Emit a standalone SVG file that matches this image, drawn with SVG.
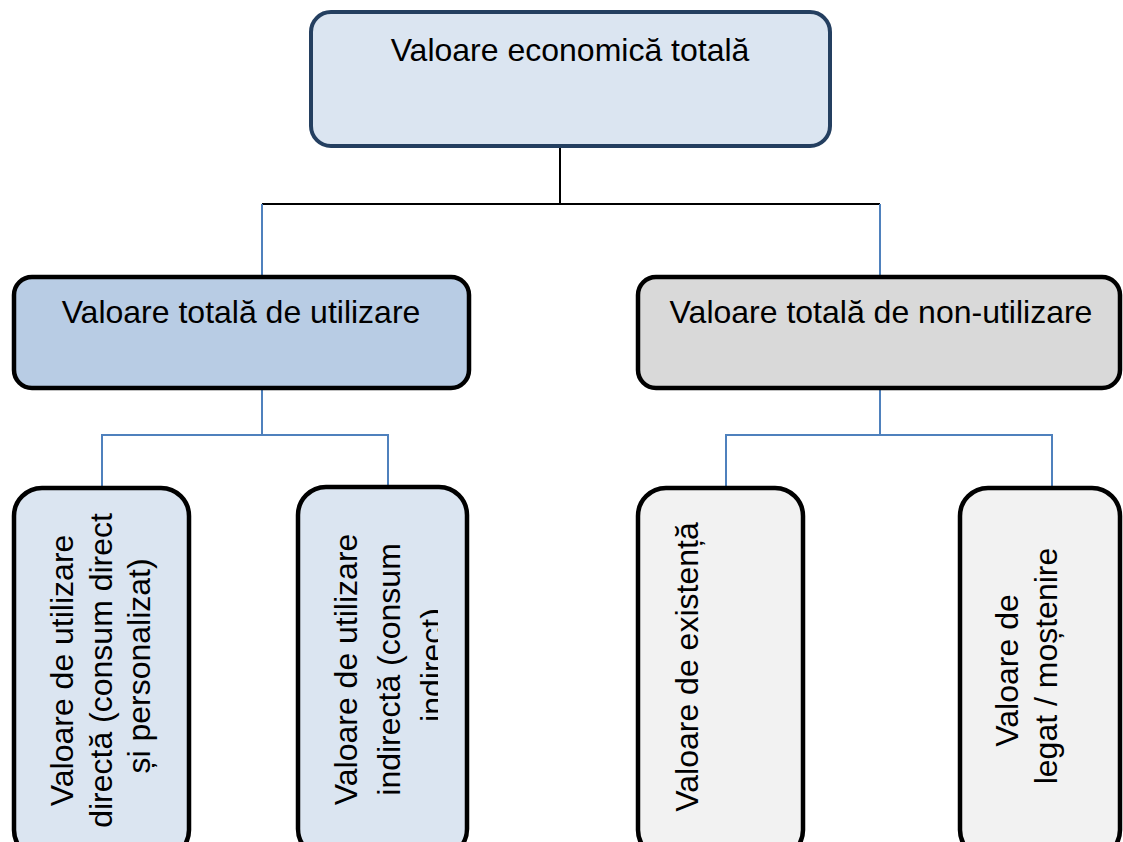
<svg xmlns="http://www.w3.org/2000/svg" width="1123" height="842" viewBox="0 0 1123 842">
  <style>
    .t { font-family: "Liberation Sans", Arial, sans-serif; font-size: 32px; fill: #000; }
    .mid { text-anchor: middle; }
    .blue { stroke: #4F81BD; stroke-width: 2; fill: none; }
    .blk { stroke: #000; stroke-width: 2; fill: none; }
    .box { stroke: #000; stroke-width: 4.5; }
  </style>
  <defs>
    <clipPath id="clip2"><rect x="299" y="489" width="139" height="360"/></clipPath>
  </defs>
  <rect width="1123" height="842" fill="#fff"/>
  <g id="connectors">
    <line class="blk" x1="560" y1="146" x2="560" y2="204"/>
    <line class="blk" x1="262" y1="204" x2="880" y2="204"/>
    <line class="blue" x1="262" y1="204" x2="262" y2="276"/>
    <line class="blue" x1="880" y1="204" x2="880" y2="276"/>
    <polyline class="blue" points="262,388 262,435"/>
    <polyline class="blue" points="102,487 102,435 388,435 388,487"/>
    <polyline class="blue" points="880,388 880,435"/>
    <polyline class="blue" points="726,487 726,435 1052,435 1052,487"/>
  </g>
  <g id="node-total">
    <rect x="311" y="12" width="519" height="134" rx="20" fill="#DBE5F1" stroke="#243F60" stroke-width="4"/>
    <text class="t mid" x="570" y="61">Valoare economică totală</text>
  </g>
  <g id="node-use">
    <rect class="box" x="14" y="277" width="455" height="111" rx="18" fill="#B8CCE4"/>
    <text class="t mid" x="241" y="323">Valoare totală de utilizare</text>
  </g>
  <g id="node-nonuse">
    <rect class="box" x="638" y="277" width="482" height="111" rx="18" fill="#D9D9D9"/>
    <text class="t mid" x="881" y="323">Valoare totală de non-utilizare</text>
  </g>
  <g id="node-direct">
    <rect class="box" x="14" y="488" width="175" height="370" rx="28" fill="#DBE5F1"/>
    <text class="t mid" transform="translate(73,666) rotate(-90)">
      <tspan x="0" y="0">Valoare de utilizare</tspan>
      <tspan x="0" y="38.5">directă (consum direct</tspan>
      <tspan x="0" y="77">și personalizat)</tspan>
    </text>
  </g>
  <g id="node-indirect">
    <rect class="box" x="298" y="487" width="169" height="370" rx="28" fill="#DBE5F1"/>
    <g clip-path="url(#clip2)">
      <text class="t mid" transform="translate(357,665) rotate(-90)">
        <tspan x="0" y="0">Valoare de utilizare</tspan>
        <tspan x="0" y="43">indirectă (consum</tspan>
        <tspan x="0" y="86">indirect)</tspan>
      </text>
    </g>
  </g>
  <g id="node-existence">
    <rect class="box" x="638" y="488" width="165" height="370" rx="28" fill="#F2F2F2"/>
    <text class="t mid" transform="translate(698,667) rotate(-90)">Valoare de existență</text>
  </g>
  <g id="node-bequest">
    <rect class="box" x="960" y="488" width="160" height="370" rx="28" fill="#F2F2F2"/>
    <text class="t mid" transform="translate(1018,666) rotate(-90)">
      <tspan x="0" y="0">Valoare de</tspan>
      <tspan x="0" y="39">legat / moștenire</tspan>
    </text>
  </g>
</svg>
